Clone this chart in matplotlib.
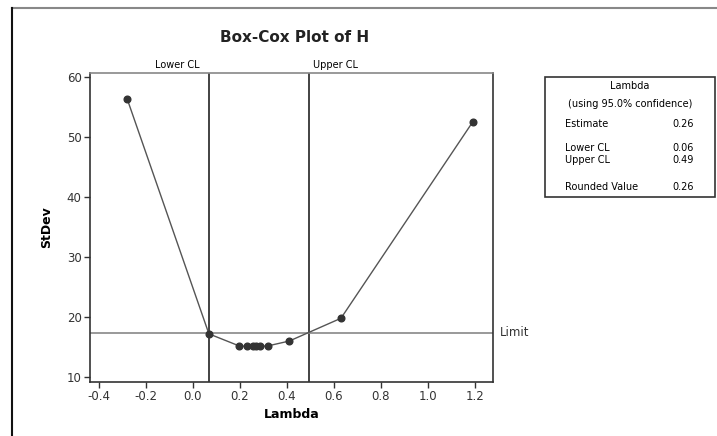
import matplotlib.pyplot as plt
from matplotlib.lines import Line2D
from matplotlib.patches import Rectangle

# values
lam = [-0.28, 0.068, 0.196, 0.23, 0.255, 0.27, 0.285, 0.32, 0.41, 0.63, 1.19]
stdev = [56.4, 17.2, 15.2, 15.1, 15.1, 15.1, 15.1, 15.2, 16.0, 19.8, 52.5]
lower_cl = 0.068
upper_cl = 0.494
limit = 17.4
x_ticks = [-0.4, -0.2, 0.0, 0.2, 0.4, 0.6, 0.8, 1.0, 1.2]
y_ticks = [10, 20, 30, 40, 50, 60]
box_rows = [("Estimate", "0.26"), ("Lower CL", "0.06"), ("Upper CL", "0.49"), ("Rounded Value", "0.26")]

W, H = 717, 436
plt.rcParams['font.family'] = ['DejaVu Sans']
fig = plt.figure(figsize=(W / 100, H / 100), dpi=100)

def fx(px):
    return px / W

def fy(py):
    return 1 - py / H

ax = fig.add_axes([fx(90), fy(382), fx(493) - fx(90), fy(73) - fy(382)])
ax.plot(lam, stdev, color='#555555', lw=1.0, marker='o', ms=4.8,
        mfc='#333333', mec='#333333', zorder=3)
ax.axvline(lower_cl, color='#222222', lw=1.2)
ax.axvline(upper_cl, color='#222222', lw=1.2)
ax.axhline(limit, color='#888888', lw=1.2)

ax.set_xlim(-0.438, 1.277)
ax.set_ylim(9.17, 60.7)
ax.set_xticks(x_ticks)
ax.set_xticklabels([f'{v:.1f}' for v in x_ticks])
ax.set_yticks(y_ticks)
ax.tick_params(labelsize=8.5, length=4, width=1, pad=2, colors='#333333')
ax.set_xlabel('Lambda', fontsize=9, fontweight='bold', labelpad=3)
ax.set_ylabel('StDev', fontsize=9, fontweight='bold', labelpad=10)
for side in ['left', 'bottom', 'right']:
    ax.spines[side].set_color('#333333')
ax.spines['top'].set_color('#888888')
for s in ax.spines.values():
    s.set_linewidth(1.2)

ax.text(lower_cl - 0.04, 1.01, 'Lower CL', transform=ax.get_xaxis_transform(),
        ha='right', va='bottom', fontsize=7)
ax.text(upper_cl + 0.015, 1.01, 'Upper CL', transform=ax.get_xaxis_transform(),
        ha='left', va='bottom', fontsize=7)
ax.text(1.018, limit, 'Limit', transform=ax.get_yaxis_transform(),
        ha='left', va='center', fontsize=8.5, color='#333333')

fig.text(fx(295), fy(37), 'Box-Cox Plot of H', ha='center', va='center',
         fontsize=11, fontweight='bold', color='#222222')

# outer frame (cut off at right and bottom)
fig.add_artist(Line2D([fx(12), 1.0], [fy(8), fy(8)], color='#888888', lw=1.5))
fig.add_artist(Line2D([fx(12), fx(12)], [fy(8), 0.0], color='#111111', lw=1.5))

# info box
fig.add_artist(Rectangle((fx(545), fy(197)), fx(715) - fx(545), fy(77) - fy(197),
                         fill=False, ec='#333333', lw=1.2))
fig.text(fx(630), fy(86), 'Lambda', ha='center', va='center', fontsize=7)
fig.text(fx(630), fy(104), '(using 95.0% confidence)', ha='center', va='center', fontsize=7)
for (name, val), y in zip(box_rows, [124, 148, 160, 187]):
    fig.text(fx(565), fy(y), name, ha='left', va='center', fontsize=7)
    fig.text(fx(694), fy(y), val, ha='right', va='center', fontsize=7)

fig.savefig('out.png', dpi=100)
